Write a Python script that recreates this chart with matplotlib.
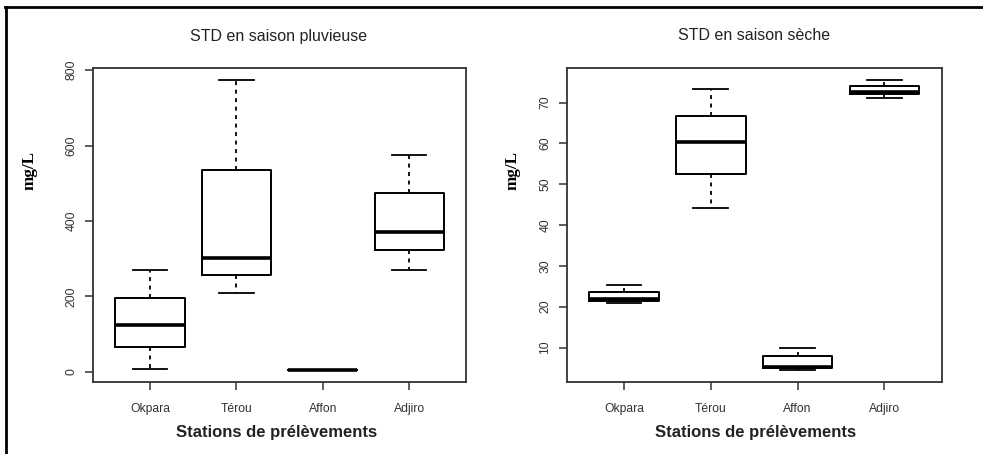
import matplotlib.pyplot as plt
from matplotlib.lines import Line2D

stations = ['Okpara', 'Térou', 'Affon', 'Adjiro']

# five-number summaries: low whisker, Q1, median, Q3, high whisker
rain_low = [7, 208, 4, 270]
rain_q1 = [65, 256, 4.5, 322]
rain_med = [125, 303, 5, 370]
rain_q3 = [197, 536, 5.5, 475]
rain_high = [270, 775, 6, 575]

dry_low = [21.0, 44.1, 4.4, 71.2]
dry_q1 = [21.4, 52.5, 5.0, 72.2]
dry_med = [21.8, 60.4, 5.3, 72.5]
dry_q3 = [23.6, 66.8, 7.8, 74.1]
dry_high = [25.2, 73.4, 10.0, 75.6]

rain_ticks = [0, 200, 400, 600, 800]
dry_ticks = [10, 20, 30, 40, 50, 60, 70]

titles = ['STD en saison pluvieuse', 'STD en saison sèche']


def make_stats(low, q1, med, q3, high):
    stats = []
    for i in range(len(stations)):
        stats.append({'whislo': low[i], 'q1': q1[i], 'med': med[i],
                      'q3': q3[i], 'whishi': high[i], 'fliers': []})
    return stats


def r_limits(lo, hi):
    pad = (hi - lo) * 0.04
    return lo - pad, hi + pad


fig = plt.figure(figsize=(9.83, 4.54), dpi=100)
ax1 = fig.add_axes([0.0946, 0.1586, 0.3795, 0.6916])
ax2 = fig.add_axes([0.5765, 0.1586, 0.3815, 0.6916])

panels = [
    (ax1, make_stats(rain_low, rain_q1, rain_med, rain_q3, rain_high), rain_ticks, min(rain_low), max(rain_high)),
    (ax2, make_stats(dry_low, dry_q1, dry_med, dry_q3, dry_high), dry_ticks, min(dry_low), max(dry_high)),
]

for ax, stats, ticks, lo, hi in panels:
    ax.bxp(stats, positions=[1, 2, 3, 4], widths=0.8, showfliers=False,
           boxprops=dict(color='black', linewidth=1.4),
           medianprops=dict(color='black', linewidth=2.6),
           whiskerprops=dict(color='black', linewidth=1.3, linestyle=(0, (2.2, 2.5))),
           capprops=dict(color='black', linewidth=1.3),
           capwidths=0.4)
    ax.set_xlim(0.34, 4.66)
    ax.set_ylim(*r_limits(lo, hi))
    ax.set_xticks([1, 2, 3, 4])
    ax.set_xticklabels(stations, fontsize=8.7, family='Liberation Sans', color='#333333')
    ax.set_yticks(ticks)
    ax.set_yticklabels([str(t) for t in ticks], rotation=90, va='center',
                       fontsize=8.7, family='Liberation Sans', color='#333333')
    ax.tick_params(axis='both', length=6, width=1.1, color='#333333')
    ax.tick_params(axis='x', pad=9)
    ax.tick_params(axis='y', pad=5)
    for s in ax.spines.values():
        s.set_linewidth(1.3)
        s.set_color('#333333')

fig.text(279 / 983, 1 - 36 / 454, titles[0], ha='center', va='center', fontsize=11.5,
         family='Liberation Sans', color='#222222')
fig.text(754 / 983, 1 - 36 / 454, titles[1], ha='center', va='center', fontsize=11.5,
         family='Liberation Sans', color='#222222')

for xc in (277 / 983, 756 / 983):
    fig.text(xc, 1 - 432 / 454, 'Stations de prélèvements', ha='center', va='center',
             fontsize=12, fontweight='bold', family='Liberation Sans', color='#222222')

fig.text(30 / 983, 1 - 170 / 454, 'mg/L', rotation=90, ha='center', va='center',
         fontsize=12.3, fontweight='bold', family='Liberation Serif')
fig.text(513 / 983, 1 - 171 / 454, 'mg/L', rotation=90, ha='center', va='center',
         fontsize=12.3, fontweight='bold', family='Liberation Serif')

# document frame around the pair of charts
fig.add_artist(Line2D([6 / 983, 6 / 983], [0, 1 - 6.5 / 454], color='black', linewidth=2,
                      transform=fig.transFigure))
fig.add_artist(Line2D([5 / 983, 1], [1 - 6.5 / 454, 1 - 6.5 / 454], color='black', linewidth=2,
                      transform=fig.transFigure))

fig.savefig('out.png', dpi=100)
